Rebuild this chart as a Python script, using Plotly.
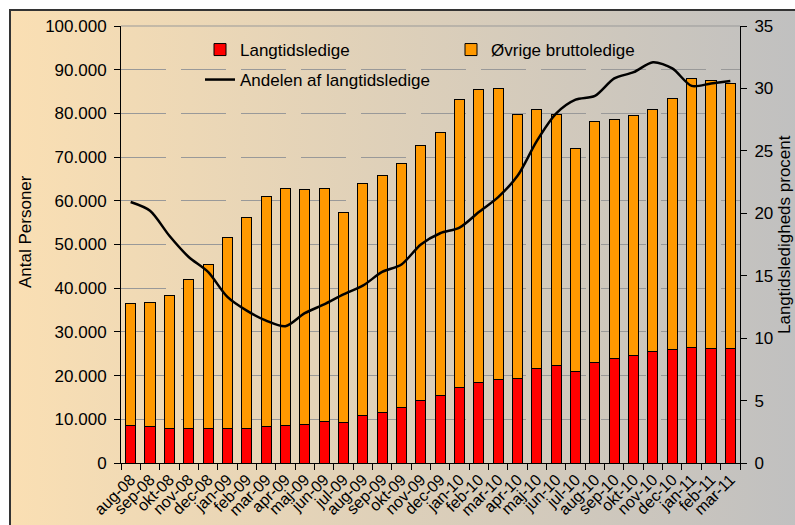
import base64
import plotly.graph_objects as go

# ---------------- data ----------------
months = ["aug-08", "sep-08", "okt-08", "nov-08", "dec-08", "jan-09", "feb-09", "mar-09",
          "apr-09", "maj-09", "jun-09", "jul-09", "aug-09", "sep-09", "okt-09", "nov-09",
          "dec-09", "jan-10", "feb-10", "mar-10", "apr-10", "maj-10", "jun-10", "jul-10",
          "aug-10", "sep-10", "okt-10", "nov-10", "dec-10", "jan-11", "feb-11", "mar-11"]

langtidsledige = [8600, 8300, 8000, 8000, 8000, 8000, 8000, 8300,
                  8600, 8900, 9500, 9200, 10900, 11500, 12600, 14200,
                  15500, 17200, 18400, 19100, 19400, 21700, 22300, 21000,
                  23100, 23900, 24600, 25600, 26000, 26500, 26300, 26300]

oevrige = [27900, 28500, 30400, 33900, 37500, 43600, 48200, 52700,
           54300, 53700, 53400, 48200, 53100, 54400, 55900, 58500,
           60200, 66000, 67100, 66700, 60400, 59200, 57500, 51000,
           55100, 54700, 55000, 55300, 57500, 61600, 61200, 60500]

andel = [20.9, 20.2, 18.2, 16.5, 15.3, 13.3, 12.2, 11.4,
         10.95, 12.0, 12.7, 13.5, 14.2, 15.3, 15.9, 17.5,
         18.4, 18.85, 20.1, 21.3, 23.0, 25.8, 28.0, 29.1,
         29.4, 30.8, 31.3, 32.1, 31.6, 30.2, 30.4, 30.6]

left_tickvals = [0, 10000, 20000, 30000, 40000, 50000, 60000, 70000, 80000, 90000, 100000]
left_ticktext = ["0", "10.000", "20.000", "30.000", "40.000", "50.000",
                 "60.000", "70.000", "80.000", "90.000", "100.000"]
right_tickvals = [0, 5, 10, 15, 20, 25, 30, 35]

# ---------------- geometry helpers ----------------
W, H = 795, 525
ML, MR, MT, MB = 121, 55, 26, 62
PW, PH = W - ML - MR, H - MT - MB


def px(x):
    return (x - ML) / PW


def py(y):
    return (H - MB - y) / PH


FONT = "Liberation Sans, Arial, sans-serif"

# gradient background as an SVG image
svg = ('<svg xmlns="http://www.w3.org/2000/svg" width="100" height="100" viewBox="0 0 100 100" '
       'preserveAspectRatio="none"><defs><linearGradient id="g" x1="0" y1="0" x2="1" y2="0">'
       '<stop offset="0" stop-color="#FADFB3"/><stop offset="1" stop-color="#C0C0C0"/>'
       '</linearGradient></defs><rect width="100" height="100" fill="url(#g)"/></svg>')
svg_uri = "data:image/svg+xml;base64," + base64.b64encode(svg.encode()).decode()

fig = go.Figure()

fig.add_trace(go.Bar(
    x=months, y=langtidsledige, name="Langtidsledige", legend="legend",
    marker=dict(color="#FF0000", line=dict(color="#000000", width=1)),
))
fig.add_trace(go.Bar(
    x=months, y=oevrige, name="Øvrige bruttoledige", legend="legend",
    marker=dict(color="#FF9900", line=dict(color="#000000", width=1)),
))
fig.add_trace(go.Scatter(
    x=months, y=andel, name="Andelen af langtidsledige", yaxis="y2", legend="legend2",
    mode="lines", line=dict(color="#000000", width=2.5, shape="spline", smoothing=0.8),
))

legend_common = dict(
    orientation="h", xanchor="left", yanchor="middle",
    bgcolor="rgba(0,0,0,0)", borderwidth=0,
    font=dict(family=FONT, size=17, color="#000000"),
    traceorder="normal",
)

fig.update_layout(
    width=W, height=H,
    margin=dict(l=ML, r=MR, t=MT, b=MB, pad=0, autoexpand=False),
    paper_bgcolor="#FFFFFF",
    plot_bgcolor="rgba(0,0,0,0)",
    barmode="stack",
    bargap=0.48,
    hovermode=False,
    font=dict(family=FONT, size=17, color="#000000"),
    showlegend=True,
    legend=dict(x=px(200), y=py(50), entrywidth=206, entrywidthmode="pixels", **legend_common),
    legend2=dict(x=px(200), y=py(80), **legend_common),
    xaxis=dict(
        type="category", range=[-0.5, len(months) - 0.5], automargin=False,
        showline=True, linecolor="#000000", linewidth=1,
        ticks="outside", ticklen=6, tickcolor="#000000", tickson="boundaries",
        tickangle=-45, tickfont=dict(family=FONT, size=16),
        showgrid=False, zeroline=False,
    ),
    yaxis=dict(
        range=[0, 100000], tickvals=left_tickvals, ticktext=left_ticktext, automargin=False,
        showline=True, linecolor="#000000", linewidth=1,
        ticks="outside", ticklen=6, tickcolor="#000000",
        ticklabelstandoff=4,
        tickfont=dict(family=FONT, size=17),
        showgrid=True, gridcolor="#999999", gridwidth=1, griddash="45px,15px",
        zeroline=False,
    ),
    yaxis2=dict(
        overlaying="y", side="right", range=[0, 35], tickvals=right_tickvals, automargin=False,
        showline=True, linecolor="#000000", linewidth=1,
        ticks="outside", ticklen=6, tickcolor="#000000",
        ticklabelstandoff=4,
        tickfont=dict(family=FONT, size=17),
        showgrid=False, zeroline=False,
    ),
    images=[dict(
        source=svg_uri, xref="paper", yref="paper",
        x=px(11), y=py(11), sizex=px(800) - px(11), sizey=py(11) - py(530),
        xanchor="left", yanchor="top", sizing="stretch", layer="below",
    )],
    shapes=[
        dict(type="rect", xref="paper", yref="paper",
             x0=px(10), x1=px(805), y0=py(535), y1=py(10),
             line=dict(color="#333333", width=2), fillcolor="rgba(0,0,0,0)", layer="above"),
        dict(type="line", xref="paper", yref="paper", x0=0, x1=1, y0=1, y1=1,
             line=dict(color="#999999", width=1), layer="below"),
    ],
    annotations=[
        dict(text="Antal Personer", xref="paper", yref="paper", x=px(25), y=py(232),
             xanchor="center", yanchor="middle", textangle=-90, showarrow=False,
             font=dict(family=FONT, size=17, color="#000000")),
        dict(text="Langtidsledigheds procent", xref="paper", yref="paper", x=px(784), y=py(235),
             xanchor="center", yanchor="middle", textangle=-90, showarrow=False,
             font=dict(family=FONT, size=17, color="#000000")),
    ],
)

fig.write_html("out.html",
               config={"displayModeBar": False, "staticPlot": True},
               post_script="document.body.style.margin='0';document.body.style.overflow='hidden';")
